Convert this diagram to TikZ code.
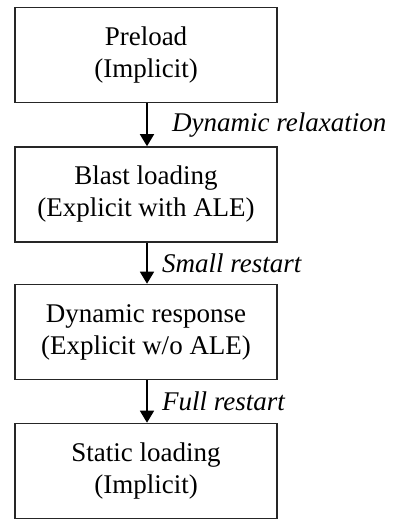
\documentclass[tikz,border=0pt]{standalone}
\usepackage{fontspec}
\setmainfont{Liberation Serif}
\usetikzlibrary{arrows.meta}
\begin{document}
\begin{tikzpicture}[x=1pt,y=1pt,
  stagebox/.style={draw=black!85,line width=1.6pt,minimum width=262pt,minimum height=95pt,
    inner sep=0pt,align=center,font=\fontsize{27}{32}\selectfont},
  flow/.style={line width=1.6pt,-{Triangle[length=12pt,width=14pt]}},
  lbl/.style={font=\fontsize{27}{32}\selectfont\itshape,anchor=west,inner sep=0pt}]
\useasboundingbox (0,0) rectangle (396,-521);
\node[stagebox] (a) at (146,-55) {Preload\\(Implicit)};
\node[stagebox] (b) at (146,-194.5) {Blast loading\\(Explicit with ALE)};
\node[stagebox] (c) at (146,-332) {Dynamic response\\(Explicit w/o ALE)};
\node[stagebox] (d) at (146,-471) {Static loading\\(Implicit)};
\draw[flow] (a.south -| 147,0) -- coordinate (m1) (b.north -| 147,0);
\draw[flow] (b.south -| 147,0) -- coordinate (m2) (c.north -| 147,0);
\draw[flow] (c.south -| 147,0) -- coordinate (m3) (d.north -| 147,0);
\node[lbl] (l1) at ([xshift=25pt]m1) {Dynamic relaxation};
\node[lbl] (l2) at ([xshift=15pt]m2) {Small restart};
\node[lbl] (l3) at ([xshift=15pt]m3) {Full restart};
\end{tikzpicture}
\end{document}
